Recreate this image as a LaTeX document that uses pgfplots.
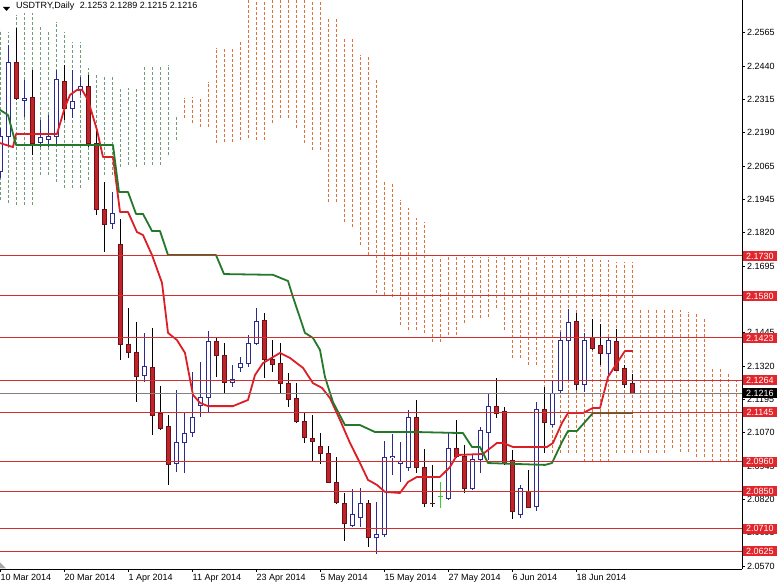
\documentclass[border=0pt]{standalone}
\usepackage{fontspec}
\setmainfont{Liberation Sans}
\usepackage{pgfplots}
\usepackage{pgfplotstable}
\pgfplotsset{compat=1.18}

\definecolor{bullline}{HTML}{2B2B8F}
\definecolor{bearfill}{HTML}{C0242B}
\definecolor{bearline}{HTML}{6E1015}
\definecolor{tenkan}{HTML}{DC1F26}
\definecolor{kijun}{HTML}{23782A}
\definecolor{kumoup}{HTML}{6E9E78}
\definecolor{kumodn}{HTML}{E0703A}
\definecolor{levelred}{HTML}{D03030}
\definecolor{labelred}{HTML}{E2262C}
\definecolor{crossgreen}{HTML}{33CC33}

% USDTRY daily candles: bar index (0 = 10 Mar 2014), open high low close
\pgfplotstableread{
k o h l c
0 2.2044 2.2208 2.2021 2.2175
1 2.2175 2.2519 2.2145 2.2452
3 2.2313 2.2388 2.2250 2.2317
5 2.2156 2.2238 2.2137 2.2171
6 2.2167 2.2257 2.2137 2.2175
7 2.2175 2.2425 2.2145 2.2388
9 2.2280 2.2425 2.2246 2.2309
10 2.2347 2.2399 2.2332 2.2362
14 2.1853 2.1969 2.1831 2.1887
18 2.1281 2.1442 2.1258 2.1318
22 2.0955 2.1228 2.0922 2.1030
23 2.1030 2.1142 2.0918 2.1064
24 2.1071 2.1296 2.1052 2.1127
25 2.1172 2.1333 2.1127 2.1202
26 2.1202 2.1449 2.1146 2.1408
29 2.1258 2.1322 2.1240 2.1269
30 2.1311 2.1352 2.1296 2.1326
31 2.1326 2.1434 2.1314 2.1404
32 2.1404 2.1535 2.1397 2.1486
44 2.0723 2.0858 2.0716 2.0764
45 2.0753 2.0862 2.0716 2.0802
47 2.0675 2.0809 2.0615 2.0686
48 2.0686 2.1038 2.0678 2.0974
49 2.0974 2.1064 2.0910 2.0981
50 2.0955 2.1034 2.0884 2.0959
51 2.0937 2.1153 2.0925 2.1127
56 2.0824 2.1067 2.0817 2.1008
59 2.0858 2.0985 2.0854 2.0970
60 2.0970 2.1090 2.0918 2.1075
61 2.1071 2.1213 2.0966 2.1165
65 2.0764 2.0873 2.0749 2.0858
67 2.0791 2.1183 2.0776 2.1157
69 2.1101 2.1266 2.1090 2.1217
70 2.1228 2.1445 2.1217 2.1415
71 2.1412 2.1531 2.1266 2.1479
73 2.1247 2.1442 2.1221 2.1415
76 2.1363 2.1427 2.1277 2.1412
}\bull

\pgfplotstableread{
k o h l c
2 2.2452 2.2583 2.2313 2.2317
4 2.2324 2.2425 2.2107 2.2152
8 2.2381 2.2444 2.2238 2.2280
11 2.2362 2.2407 2.2137 2.2152
12 2.2152 2.2201 2.1883 2.1905
13 2.1905 2.2006 2.1745 2.1846
15 2.1771 2.1868 2.1341 2.1400
16 2.1400 2.1535 2.1348 2.1367
17 2.1367 2.1483 2.1183 2.1277
19 2.1314 2.1460 2.1060 2.1131
20 2.1139 2.1243 2.1079 2.1086
21 2.1090 2.1135 2.0873 2.0951
27 2.1408 2.1427 2.1277 2.1359
28 2.1359 2.1404 2.1217 2.1258
33 2.1490 2.1516 2.1273 2.1341
34 2.1344 2.1415 2.1296 2.1322
35 2.1329 2.1404 2.1217 2.1251
36 2.1251 2.1292 2.1165 2.1191
37 2.1198 2.1254 2.1105 2.1112
38 2.1112 2.1142 2.1030 2.1049
39 2.1045 2.1135 2.0959 2.1034
40 2.1015 2.1067 2.0951 2.0989
41 2.0989 2.1019 2.0880 2.0884
42 2.0884 2.0978 2.0802 2.0809
43 2.0805 2.0843 2.0663 2.0727
46 2.0802 2.0817 2.0641 2.0675
52 2.1127 2.1191 2.0918 2.0937
53 2.0937 2.1008 2.0791 2.0805
54 2.0805 2.0948 2.0791 2.0802
57 2.1008 2.1116 2.0974 2.0978
58 2.0981 2.1023 2.0843 2.0858
62 2.1165 2.1273 2.1124 2.1142
63 2.1146 2.1165 2.0948 2.0955
64 2.0966 2.1004 2.0746 2.0772
66 2.0847 2.0929 2.0787 2.0787
68 2.1157 2.1240 2.0993 2.1105
72 2.1486 2.1516 2.1228 2.1247
74 2.1423 2.1494 2.1378 2.1385
75 2.1393 2.1475 2.1322 2.1363
77 2.1408 2.1457 2.1299 2.1303
78 2.1307 2.1322 2.1236 2.1247
79 2.1253 2.1289 2.1215 2.1216
}\bear

% Kumo (span A / span B), shifted 26 bars ahead
\pgfplotstableread{
k lo hi
0 2.1939 2.2575
1 2.1928 2.2568
2 2.1920 2.2631
3 2.1920 2.2639
4 2.1920 2.2639
5 2.2033 2.2586
6 2.2033 2.2568
7 2.2006 2.2605
8 2.1984 2.2568
9 2.1984 2.2530
10 2.1984 2.2530
11 2.2014 2.2433
12 2.2021 2.2407
13 2.2033 2.2399
14 2.2033 2.2399
15 2.2063 2.2358
16 2.2070 2.2358
17 2.2063 2.2362
18 2.2070 2.2444
19 2.2070 2.2444
20 2.2070 2.2444
21 2.2107 2.2444
22 2.2164 2.2250
}\upkumo

\pgfplotstableread{
k lo hi
23 2.2246 2.2321
24 2.2227 2.2324
25 2.2212 2.2324
26 2.2212 2.2381
27 2.2152 2.2508
28 2.2156 2.2508
29 2.2156 2.2508
30 2.2164 2.2538
31 2.2171 2.2687
32 2.2164 2.2687
33 2.2164 2.2687
34 2.2227 2.2687
35 2.2246 2.2687
36 2.2246 2.2687
37 2.2208 2.2687
38 2.2152 2.2687
39 2.2126 2.2687
40 2.2126 2.2687
41 2.1932 2.2624
42 2.1932 2.2624
43 2.1857 2.2545
44 2.1838 2.2545
45 2.1771 2.2482
46 2.1733 2.2474
47 2.1591 2.2388
48 2.1584 2.2006
49 2.1576 2.2006
50 2.1471 2.1939
51 2.1453 2.1909
52 2.1453 2.1872
53 2.1442 2.1857
54 2.1408 2.1726
55 2.1408 2.1726
56 2.1434 2.1726
57 2.1434 2.1726
58 2.1479 2.1726
59 2.1498 2.1726
60 2.1498 2.1726
61 2.1501 2.1726
62 2.1535 2.1726
63 2.1453 2.1726
64 2.1348 2.1726
65 2.1348 2.1726
66 2.1322 2.1726
67 2.1322 2.1726
68 2.0993 2.1726
69 2.0993 2.1726
70 2.0993 2.1726
71 2.0993 2.1726
72 2.0993 2.1726
73 2.0959 2.1722
74 2.0959 2.1722
75 2.0959 2.1715
76 2.0959 2.1715
77 2.0993 2.1707
78 2.0993 2.1707
79 2.0993 2.1707
80 2.0993 2.1528
81 2.0993 2.1528
82 2.0993 2.1528
83 2.0993 2.1528
84 2.1011 2.1528
85 2.0996 2.1528
86 2.0996 2.1520
87 2.0978 2.1516
88 2.0978 2.1501
89 2.0959 2.1311
90 2.0959 2.1311
91 2.0959 2.1292
92 2.0959 2.1266
}\dnkumo

\begin{document}
\begin{tikzpicture}[x=1pt,y=1pt]
\begin{axis}[
  at={(0pt,16pt)}, anchor=south west,
  scale only axis, width=742pt, height=569pt,
  xmin=-0.0625, xmax=92.69,
  ymin=2.05586, ymax=2.26873,
  axis x line*=bottom, axis y line*=right,
  axis line style={black, line width=0.8pt},
  clip mode=individual,
  xtick={0,8,...,72},
  xticklabels={10 Mar 2014,20 Mar 2014,1 Apr 2014,11 Apr 2014,23 Apr 2014,5 May 2014,15 May 2014,27 May 2014,6 Jun 2014,18 Jun 2014},
  ytick={2.2565,2.24403,2.23156,2.21909,2.20663,2.19416,2.18169,2.16922,2.15675,2.14428,2.13181,2.11934,2.10688,2.09441,2.08194,2.06947,2.0570},
  yticklabels={2.2565,2.2440,2.2315,2.2190,2.2065,2.1945,2.1820,2.1695,{},2.1445,2.1320,2.1195,2.1070,2.0945,2.0820,2.0695,2.0570},
  tick align=outside,
  major tick length=3pt,
  tick style={black, line width=0.6pt},
  ticklabel style={font=\fontsize{9}{10}\selectfont, inner sep=0pt},
  xticklabel style={anchor=north west, yshift=-2pt},
  yticklabel style={anchor=west, xshift=2pt},
  every axis plot/.append style={line join=round},
  candle/.style={draw=none, mark=none, forget plot,
    error bars/y dir=plus, error bars/y explicit, error bars/error mark=none},
]
% kumo hatching
\addplot[candle, error bars/error bar style={line width=0.8pt, draw=kumoup, dash pattern=on 3pt off 2pt}]
  table[x=k, y=lo, y error plus expr={\thisrow{hi}-\thisrow{lo}}] {\upkumo};
\addplot[candle, error bars/error bar style={line width=0.8pt, draw=kumodn, dash pattern=on 3pt off 2pt}]
  table[x=k, y=lo, y error plus expr={\thisrow{hi}-\thisrow{lo}}] {\dnkumo};

% wicks
\addplot[candle, error bars/error bar style={line width=1pt, draw=bullline}]
  table[x=k, y=l, y error plus expr={\thisrow{h}-\thisrow{l}}] {\bull};
\addplot[candle, error bars/error bar style={line width=1pt, draw=black}]
  table[x=k, y=l, y error plus expr={\thisrow{h}-\thisrow{l}}] {\bear};

% bullish bodies: outline and white inside
\addplot[candle, error bars/error bar style={line width=5pt, draw=bullline}]
  table[x=k, y expr={\thisrow{o}-0.000187}, y error plus expr={\thisrow{c}-\thisrow{o}+0.000374}] {\bull};
\addplot[candle, error bars/error bar style={line width=3pt, draw=white}]
  table[x=k, y expr={\thisrow{o}+0.000187}, y error plus expr={max(\thisrow{c}-\thisrow{o}-0.000374,0)}] {\bull};

% bearish bodies
\addplot[candle, error bars/error bar style={line width=5pt, draw=bearline}]
  table[x=k, y expr={\thisrow{c}-0.000187}, y error plus expr={\thisrow{o}-\thisrow{c}+0.000374}] {\bear};
\addplot[candle, error bars/error bar style={line width=3pt, draw=bearfill}]
  table[x=k, y expr={\thisrow{c}+0.000187}, y error plus expr={max(\thisrow{o}-\thisrow{c}-0.000374,0)}] {\bear};

% doji bar of 26 May
\addplot[crossgreen, line width=1pt, forget plot] coordinates {(55,2.0787) (55,2.0884)};
\addplot[crossgreen, line width=1pt, forget plot] coordinates {(54.69,2.0828) (55.31,2.0828)};

% tenkan-sen
\addplot[tenkan, line width=1.8pt, forget plot] coordinates {
(-0.06,2.2152) (1.56,2.2137) (1.94,2.2186) (7.06,2.2186) (8.06,2.2287) (8.69,2.2332)
(9.56,2.2351) (10.19,2.2351) (10.94,2.2313) (12.06,2.2201) (12.81,2.2100) (14.06,2.2100)
(14.94,2.1894) (15.94,2.1894) (17.06,2.1819) (17.81,2.1808) (18.94,2.1733) (20.19,2.1629)
(20.94,2.1442) (22.06,2.1415) (23.06,2.1367) (24.06,2.1210) (24.94,2.1180) (25.94,2.1168)
(29.06,2.1168) (30.94,2.1191) (31.81,2.1284) (32.81,2.1329) (34.94,2.1367) (36.19,2.1348)
(37.81,2.1311) (39.06,2.1254) (40.19,2.1236) (41.19,2.1198) (42.44,2.1116) (43.69,2.1030)
(44.94,2.0955) (45.94,2.0892) (47.06,2.0873) (48.06,2.0847) (49.94,2.0843) (50.94,2.0884)
(52.06,2.0903) (54.94,2.0903) (56.19,2.0940) (57.06,2.0985) (60.31,2.0989) (62.06,2.1030)
(62.81,2.1030) (64.06,2.1015) (68.31,2.1015) (69.06,2.1030) (70.19,2.1105) (70.94,2.1142)
(72.81,2.1142) (74.06,2.1161) (74.94,2.1161) (75.94,2.1277) (77.06,2.1329) (78.06,2.1374)
(79.06,2.1374)};

% kijun-sen
\addplot[kijun, line width=1.8pt, forget plot] coordinates {
(-0.06,2.2276) (0.94,2.2257) (1.94,2.2145) (14.06,2.2145) (14.81,2.1969) (15.94,2.1969)
(16.94,2.1887) (17.81,2.1887) (18.94,2.1823) (19.94,2.1823) (20.94,2.1733) (26.94,2.1733)
(27.94,2.1662) (34.06,2.1659) (35.94,2.1636) (36.56,2.1576) (37.44,2.1498) (38.06,2.1442)
(39.06,2.1423) (39.94,2.1378) (40.56,2.1277) (41.56,2.1183) (43.06,2.1097) (44.94,2.1097)
(46.81,2.1071) (52.06,2.1071) (57.81,2.1067) (58.94,2.1015) (59.94,2.1015) (60.94,2.0955)
(68.06,2.0948) (68.94,2.0955) (70.19,2.1034) (70.94,2.1075) (72.06,2.1075) (74.06,2.1142)
(79.06,2.1142)};

% support / resistance levels
\pgfplotsinvokeforeach{2.1730,2.1580,2.1423,2.1264,2.1145,2.0960,2.0850,2.0710,2.0625}{
  \addplot[levelred, line width=1pt, forget plot] coordinates {(-1,#1) (100,#1)};
}
% last price
\addplot[gray, line width=0.7pt, forget plot] coordinates {(-1,2.1216) (100,2.1216)};

\coordinate (lA) at (axis cs:92.69,2.1730);
\coordinate (lB) at (axis cs:92.69,2.1580);
\coordinate (lC) at (axis cs:92.69,2.1423);
\coordinate (lD) at (axis cs:92.69,2.1264);
\coordinate (lE) at (axis cs:92.69,2.1145);
\coordinate (lF) at (axis cs:92.69,2.0960);
\coordinate (lG) at (axis cs:92.69,2.0850);
\coordinate (lH) at (axis cs:92.69,2.0710);
\coordinate (lI) at (axis cs:92.69,2.0625);
\coordinate (lP) at (axis cs:92.69,2.1216);
\end{axis}

\tikzset{lvbox/.style={anchor=west, inner sep=0pt, minimum width=34.5pt, minimum height=10pt,
  text height=6.4pt, text depth=0pt, text=white, font=\fontsize{9}{10}\selectfont, xshift=0.5pt}}
\foreach \n/\t in {lA/2.1730,lB/2.1580,lC/2.1423,lD/2.1264,lE/2.1145,lF/2.0960,lG/2.0850,lH/2.0710,lI/2.0625}
  \node[lvbox, fill=labelred] at (\n) {\t};
\node[lvbox, fill=black] at (lP) {2.1216};

% chart header
\fill[black] (3,578) -- (10,578) -- (6.5,574) -- cycle;
\node[anchor=west, inner sep=0pt, font=\fontsize{9}{10}\selectfont] at (16,578.5)
  {USDTRY,Daily\hspace{0.6em}2.1253 2.1289 2.1215 2.1216};
% shift marker
\fill[gray!70] (0,16.5) -- (6,16.5) -- (0,22.5) -- cycle;

\pgfresetboundingbox
\useasboundingbox (0,0) rectangle (777,585);
\end{tikzpicture}
\end{document}
